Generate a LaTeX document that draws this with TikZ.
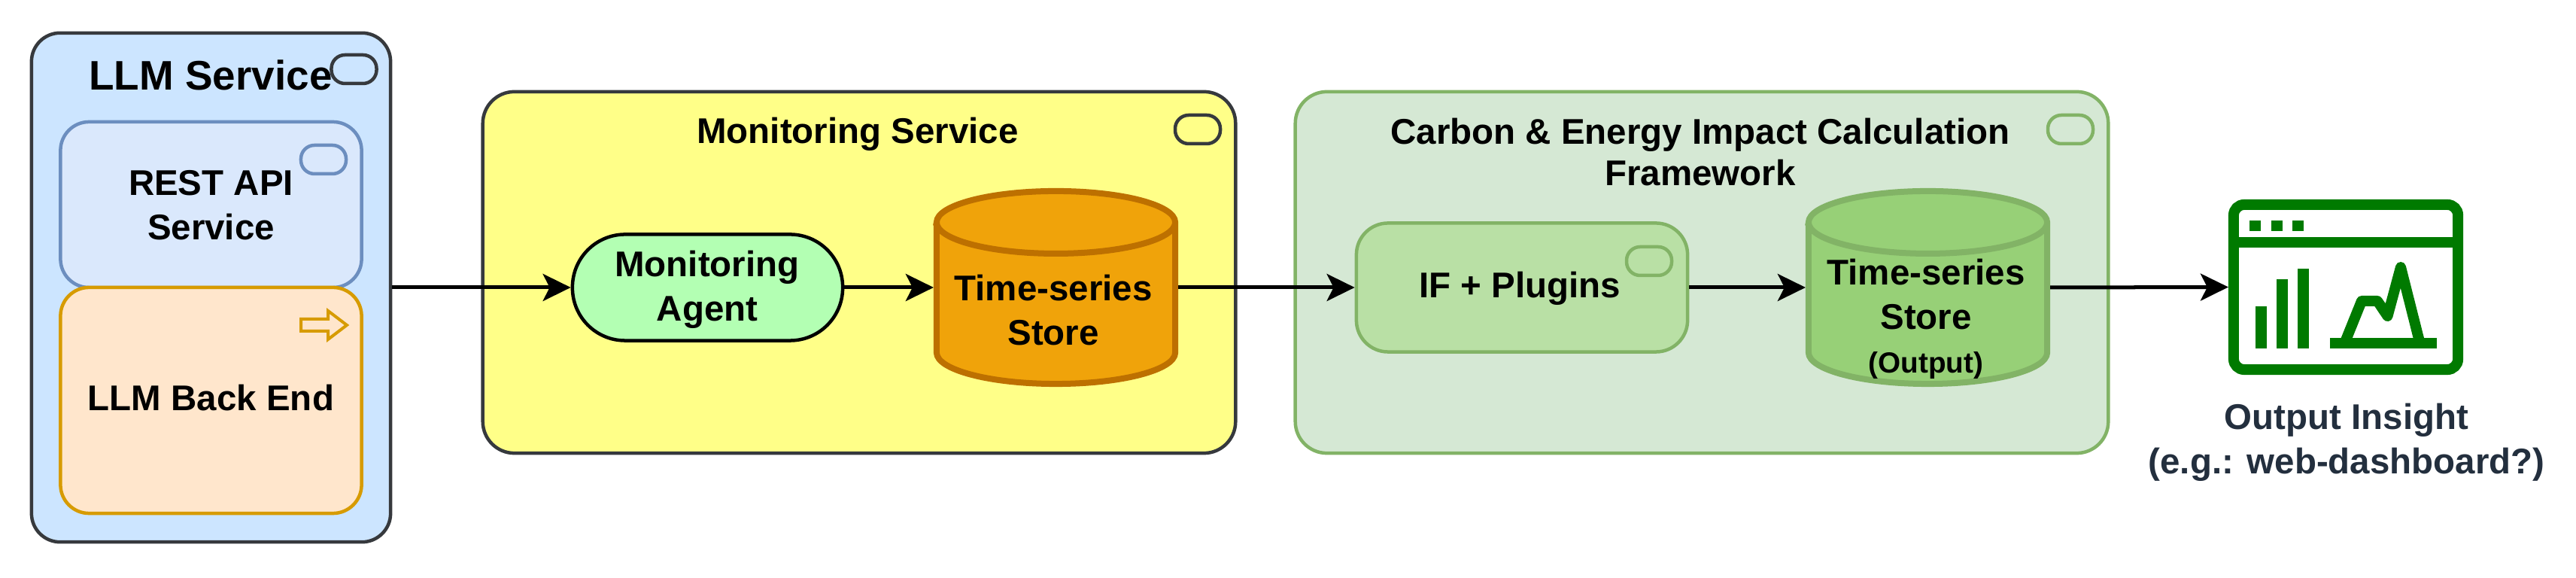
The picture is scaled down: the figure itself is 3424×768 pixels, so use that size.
\documentclass[tikz,border=0pt]{standalone}
\usepackage{fontspec}
\setmainfont{Liberation Sans}
\usetikzlibrary{arrows.meta}

\tikzset{
  body/.style={font=\bfseries\fontsize{13.5}{16.7}\selectfont,align=center,inner sep=0pt},
  svcbox/.style={draw,rounded corners=0.42cm,line width=0.045cm,inner sep=0pt},
  tinypill/.style={draw,rounded corners=0.18cm,line width=0.045cm,minimum width=0.6cm,minimum height=0.38cm,inner sep=0pt},
  storecyl/.style={line width=0.08cm,minimum width=3.17cm,minimum height=2.56cm,inner sep=0pt},
  flow/.style={line width=0.05cm,-{Stealth[length=0.37cm,width=0.36cm,inset=0.09cm]}}
}
\definecolor{slateline}{HTML}{36393D}
\definecolor{blueback}{HTML}{CCE5FF}
\definecolor{restfill}{HTML}{DAE8FC}
\definecolor{restline}{HTML}{6C8EBF}
\definecolor{llmfill}{HTML}{FFE6CC}
\definecolor{llmline}{HTML}{D79B00}
\definecolor{monfill}{HTML}{FFFF88}
\definecolor{agentfill}{HTML}{B3FFB3}
\definecolor{ambfill}{HTML}{F0A30A}
\definecolor{ambline}{HTML}{BD7000}
\definecolor{carbfill}{HTML}{D5E8D4}
\definecolor{carbline}{HTML}{82B366}
\definecolor{plugfill}{HTML}{B9E0A5}
\definecolor{outfill}{HTML}{97D077}
\definecolor{iconcol}{HTML}{007A00}
\definecolor{insight}{HTML}{232F3E}

% drum body drawn round a named node
\newcommand{\drum}[3]{%
  \draw[fill=#2,draw=#3,line width=0.08cm]
    ([yshift=0.865cm,xshift=0.04cm]#1.west) -- ([yshift=-0.865cm,xshift=0.04cm]#1.west)
    arc[start angle=180,end angle=360,x radius=1.585cm,y radius=0.415cm]
    -- ([yshift=0.865cm,xshift=-0.04cm]#1.east)
    arc[start angle=0,end angle=180,x radius=1.585cm,y radius=0.415cm] -- cycle
    ([yshift=0.865cm,xshift=0.04cm]#1.west)
    arc[start angle=180,end angle=360,x radius=1.585cm,y radius=0.415cm];}

\begin{document}
\begin{tikzpicture}[x=0.01cm,y=-0.01cm]
    \useasboundingbox (0,0) rectangle (3424,768);

    % LLM service
    \node[svcbox, fill=blueback, draw=slateline, rounded corners=0.38cm, minimum width=4.77cm, minimum height=6.76cm] (LLM) at (280.5,382) {};
    \node[body, font=\bfseries\fontsize{15.6}{18}\selectfont] (LLMtitle) at (280,100) {LLM Service};
    \node[tinypill, draw=slateline] (LLMpill) at (470.5,92) {};
    \node[svcbox, fill=restfill, draw=restline, rounded corners=0.38cm, minimum width=4.0cm, minimum height=2.2cm] (REST) at (280.5,272) {};
    \node[body] (RESTtext) at (280.5,273) {REST API\\Service};
    \node[tinypill, draw=restline] (RESTpill) at (430,212) {};
    \node[svcbox, fill=llmfill, draw=llmline, rounded corners=0.38cm, minimum width=4.0cm, minimum height=3.0cm] (Backend) at (280.5,532) {};
    \node[body] (Backendtext) at (280.5,529) {LLM Back End};
    \draw[llmline, line width=0.04cm, line join=miter, fill=llmfill] (400,424) -- (436,424) -- (436,413) -- (461,432) -- (436,451) -- (436,440) -- (400,440) -- cycle;

    % monitoring
    \node[svcbox, fill=monfill, draw=slateline, minimum width=10cm, minimum height=4.8cm] (Mon) at (1142,362) {};
    \node[body] (Montitle) at (1140,178) {Monitoring Service};
    \node[tinypill, draw=slateline] (Monpill) at (1592,172) {};
    \node[svcbox, fill=agentfill, draw=black, rounded corners=0.7cm, minimum width=3.59cm, minimum height=1.41cm] (Agent) at (940.5,382) {};
    \node[body] (Agenttext) at (940,385) {Monitoring\\Agent};
    \node[storecyl] (Store) at (1403.5,382) {};
    \drum{Store}{ambfill}{ambline}
    \node[body] (Storetext) at (1400,412) {Time-series\\Store};

    % impact framework
    \node[svcbox, fill=carbfill, draw=carbline, minimum width=10.8cm, minimum height=4.8cm] (Carbon) at (2262,362) {};
    \node[body, font=\bfseries\fontsize{13.5}{15.6}\selectfont] (Carbontitle) at (2260,202) {Carbon \& Energy Impact Calculation\\Framework};
    \node[tinypill, draw=carbline] (Carbonpill) at (2752,172) {};
    \node[svcbox, fill=plugfill, draw=carbline, minimum width=4.4cm, minimum height=1.71cm] (Plugins) at (2023,382) {};
    \node[body] (Pluginstext) at (2020,383) {IF + Plugins};
    \node[tinypill, draw=carbline] (Pluginspill) at (2192,347) {};
    \node[storecyl] (Output) at (2562.5,382) {};
    \drum{Output}{outfill}{carbline}
    \node[body] (Outputtext) at (2560,391) {Time-series\\Store};
    \node[body, font=\bfseries\fontsize{11}{13}\selectfont] (Outputnote) at (2560,486) {(Output)};

    % output icon
    \node[draw=iconcol, line width=0.14cm, rounded corners=0.14cm, minimum width=2.98cm, minimum height=2.19cm, inner sep=0pt] (Icon) at (3118,381.5) {};
    \fill[iconcol] (2969,315) rectangle (3267,329);
    \foreach \dx in {2990,3019,3047}
        \fill[iconcol] (\dx,293) rectangle ++(15,14);
    \foreach \bx/\btop in {2998/407,3026/371,3054/357}
        \fill[iconcol] (\bx,\btop) rectangle (\bx+15,463);
    \fill[iconcol] (3097,449) rectangle (3239,463);
    \draw[iconcol, line width=0.14cm, line join=round] (3118,452) -- (3139,400) -- (3160,400) -- (3173.5,420) -- (3191,355) -- (3215.5,452);
    \node[body, text=insight] (Insight) at (3119,588) {Output Insight\\(e.g.: web-dashboard?)};

    \draw[flow] (LLM.east) -- (Agent.west);
    \draw[flow] (Agent.east) -- (Store.west);
    \draw[flow] (Store.east) -- (Plugins.west);
    \draw[flow] (Plugins.east) -- (Output.west);
    \draw[flow] (Output.east) -- (Icon.west);
\end{tikzpicture}
\end{document}
